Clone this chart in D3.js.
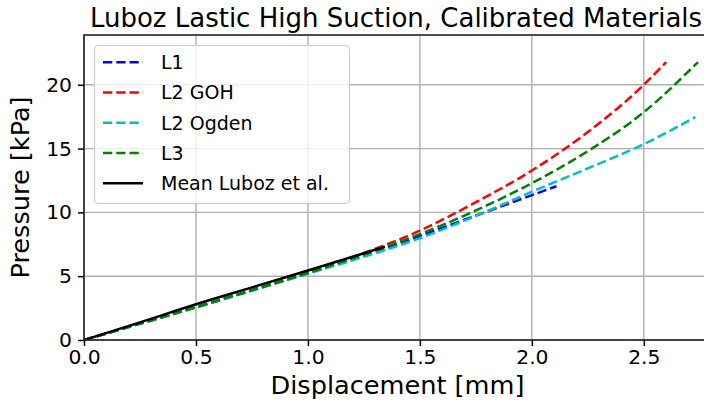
<!DOCTYPE html>
<html>
<head>
<meta charset="utf-8">
<script src="https://cdn.jsdelivr.net/npm/d3@7"></script>
<style>
  html, body { margin: 0; padding: 0; background: #fff; overflow: hidden; }
  svg { display: block; font-family: "DejaVu Sans", sans-serif; }
</style>
</head>
<body>
<svg id="chart" width="704" height="411"></svg>
<script>
// Pressure vs. displacement for each calibrated material model
const seriesNames = ["L1", "L2 GOH", "L2 Ogden", "L3", "Mean Luboz et al."];

const dispL1 = [0, 0.25, 0.5, 0.75, 1.0, 1.25, 1.5, 1.75, 2.0, 2.11];
const presL1 = [0, 1.28, 2.57, 3.9, 5.24, 6.62, 8.16, 9.75, 11.35, 12.05];

const dispL2GOH = [0, 0.25, 0.5, 0.75, 1.0, 1.25, 1.5, 1.75, 2.0, 2.25, 2.5, 2.6];
const presL2GOH = [0, 1.28, 2.57, 3.91, 5.28, 6.82, 8.57, 10.8, 13.28, 16.3, 20.0, 21.78];

const dispL2Ogden = [0, 0.25, 0.5, 0.75, 1.0, 1.25, 1.5, 1.75, 2.0, 2.25, 2.5, 2.73];
const presL2Ogden = [0, 1.27, 2.55, 3.86, 5.2, 6.52, 7.98, 9.72, 11.62, 13.45, 15.35, 17.47];

const dispL3 = [0, 0.25, 0.5, 0.75, 1.0, 1.25, 1.5, 1.75, 2.0, 2.25, 2.5, 2.742];
const presL3 = [0, 1.28, 2.57, 3.9, 5.25, 6.72, 8.3, 10.15, 12.29, 14.8, 17.85, 21.78];

const dispMean = [0, 0.25, 0.5, 0.75, 1.0, 1.25, 1.344];
const presMean = [0, 1.38, 2.8, 4.12, 5.45, 6.8, 7.32];

const xTicks = [0, 0.5, 1.0, 1.5, 2.0, 2.5];
const yTicks = [0, 5, 10, 15, 20];

const titleText = "Luboz Lastic High Suction, Calibrated Materials";
const xLabel = "Displacement [mm]";
const yLabel = "Pressure [kPa]";

// styling per series
const seriesColors = ["#0000ff", "#ff0000", "#00bfbf", "#008000", "#000000"];
const seriesDashed = [true, true, true, true, false];

const series = [
  [dispL1, presL1],
  [dispL2GOH, presL2GOH],
  [dispL2Ogden, presL2Ogden],
  [dispL3, presL3],
  [dispMean, presMean]
].map(([xs, ys], i) => ({
  name: seriesNames[i],
  color: seriesColors[i],
  dashed: seriesDashed[i],
  points: xs.map((d, j) => ({ x: d, y: ys[j] }))
}));

const svg = d3.select("#chart");
const plot = { left: 84, top: 35, right: 711, bottom: 340 };

const x = d3.scaleLinear().domain([0, 2.8]).range([plot.left, plot.right]);
const y = d3.scaleLinear().domain([0, 23.9]).range([plot.bottom, plot.top]);

svg.append("defs").append("clipPath").attr("id", "plotClip")
  .append("rect")
  .attr("x", plot.left).attr("y", plot.top)
  .attr("width", plot.right - plot.left).attr("height", plot.bottom - plot.top);

// grid
const grid = svg.append("g").attr("stroke", "#b0b0b0").attr("stroke-width", 1.4);
xTicks.forEach(t => {
  grid.append("line").attr("x1", x(t)).attr("x2", x(t))
    .attr("y1", plot.top).attr("y2", plot.bottom);
});
yTicks.forEach(t => {
  grid.append("line").attr("x1", plot.left).attr("x2", plot.right)
    .attr("y1", y(t)).attr("y2", y(t));
});

// curves
const line = d3.line().x(d => x(d.x)).y(d => y(d.y)).curve(d3.curveMonotoneX);
const curves = svg.append("g").attr("clip-path", "url(#plotClip)");
series.forEach(s => {
  curves.append("path")
    .attr("d", line(s.points))
    .attr("fill", "none")
    .attr("stroke", s.color)
    .attr("stroke-width", 2.5)
    .attr("stroke-dasharray", s.dashed ? "9.25,4" : null);
});

// axes
const xAxis = svg.append("g").attr("transform", `translate(0,${plot.bottom})`)
  .call(d3.axisBottom(x).tickValues(xTicks).tickFormat(d3.format(".1f"))
    .tickSize(6).tickPadding(4));
const yAxis = svg.append("g").attr("transform", `translate(${plot.left},0)`)
  .call(d3.axisLeft(y).tickValues(yTicks).tickFormat(d3.format("d"))
    .tickSize(6).tickPadding(6));
[xAxis, yAxis].forEach(a => {
  a.select(".domain").remove();
  a.selectAll(".tick line").attr("stroke", "#000").attr("stroke-width", 1.5);
  a.selectAll(".tick text").attr("fill", "#000")
    .style("font-family", "DejaVu Sans").style("font-size", "20.3px");
});

// frame (left, top, bottom spines)
svg.append("rect")
  .attr("x", plot.left).attr("y", plot.top)
  .attr("width", plot.right - plot.left).attr("height", plot.bottom - plot.top)
  .attr("fill", "none").attr("stroke", "#222").attr("stroke-width", 1.6);

// title and axis labels
svg.append("text")
  .attr("x", 396).attr("y", 27)
  .attr("text-anchor", "middle")
  .style("font-size", "26px")
  .text(titleText);
svg.append("text")
  .attr("x", (plot.left + plot.right) / 2).attr("y", 394)
  .attr("text-anchor", "middle")
  .style("font-size", "25.6px")
  .text(xLabel);
svg.append("text")
  .attr("transform", `translate(29,${(plot.top + plot.bottom) / 2}) rotate(-90)`)
  .attr("text-anchor", "middle")
  .style("font-size", "25.6px")
  .text(yLabel);

// legend
const legend = svg.append("g");
legend.append("rect")
  .attr("x", 94.5).attr("y", 45.5).attr("width", 255).attr("height", 158)
  .attr("rx", 4).attr("ry", 4)
  .attr("fill", "#fff").attr("fill-opacity", 0.8)
  .attr("stroke", "#cccccc").attr("stroke-width", 1.2);
series.forEach((s, i) => {
  const cy = 62.3 + i * 30.25;
  legend.append("line")
    .attr("x1", 103).attr("x2", 143).attr("y1", cy).attr("y2", cy)
    .attr("stroke", s.color).attr("stroke-width", 2.5)
    .attr("stroke-dasharray", s.dashed ? "9.25,4" : null);
  legend.append("text")
    .attr("x", 161).attr("y", cy + 6.9)
    .style("font-size", "19px")
    .text(s.name);
});
</script>
</body>
</html>
